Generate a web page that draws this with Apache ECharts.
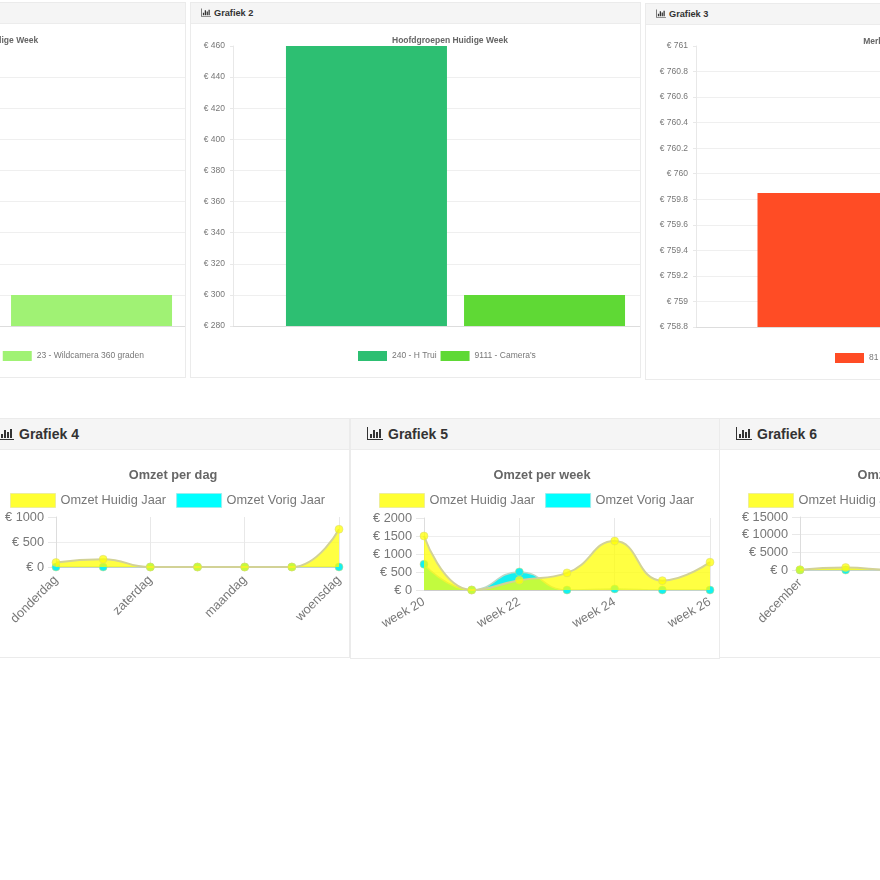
<!DOCTYPE html>
<html>
<head>
<meta charset="utf-8">
<title>Grafieken</title>
<script src="https://cdn.jsdelivr.net/npm/echarts@6/dist/echarts.min.js"></script>
<style>
  html, body { margin: 0; padding: 0; background: #fff; }
  #page { position: relative; width: 880px; height: 880px; overflow: hidden; font-family: "Liberation Sans", sans-serif; }
  .card { position: absolute; overflow: hidden; box-sizing: border-box; background: #fff; border: 1px solid #ebebeb; }
  .card .head { position: absolute; left: 0; right: 0; top: 0; background: #f5f5f5; border-bottom: 1px solid #ececec; color: #333; font-weight: bold; box-sizing: border-box; white-space: nowrap; }
  .card .head svg { vertical-align: -1px; margin-right: 3px; }
  .card.small .head { height: 21px; line-height: 21px; font-size: 9.2px; padding-left: 10px; }
  .card.big .head { height: 31px; line-height: 30px; font-size: 14px; padding-left: 16px; }
  .card.big .head svg { margin-right: 5px; vertical-align: -1px; }
  .chart { position: absolute; left: -1px; top: -1px; }
</style>
</head>
<body>
<div id="page"></div>
<script>
// bovenste rij: een dataset per staaf
const names1 = ["12 - Actiecamera", "23 - Wildcamera 360 graden"];
const values1 = [460, 300];
const colors1 = ["#f2b84b", "#a0f274"];
const ticks1 = [280, 460, 20];

const names2 = ["240 - H Trui", "9111 - Camera's"];
const values2 = [460, 300];
const colors2 = ["#2dbf72", "#5fd935"];
const ticks2 = [280, 460, 20];

const names3 = ["81 - Merk"];
const values3 = [759.85];
const colors3 = ["#ff4c25"];
const ticks3 = [758.8, 761, 0.2];

// onderste rij: omzet
const days = ["donderdag", "vrijdag", "zaterdag", "zondag", "maandag", "dinsdag", "woensdag"];
const dayNow = [90, 155, 0, 0, 0, 0, 755];
const dayLast = [0, 0, 0, 0, 0, 0, 0];

const weeks = ["week 20", "week 21", "week 22", "week 23", "week 24", "week 25", "week 26"];
const weekNow = [1500, 0, 270, 475, 1360, 260, 773];
const weekLast = [717, 0, 503, 0, 30, 0, 0];

const months = ["december", "januari", "februari", "maart", "april", "mei", "juni"];
const monthNow = [100, 700, 50, 0, 0, 0, 0];
const monthLast = [0, 0, 0, 0, 0, 0, 0];

const GREY = "#777";
const ICON = (w, h) => `<svg width="${w}" height="${h}" viewBox="0 0 16 13"><path d="M0 0h1v12h15v1H0z M3 7h2v4H3z M6 3h2v8H6z M9 5h2v6H9z M12 2h2v9h-2z" fill="#333"/></svg>`;

function addCard(left, top, width, height, title, size) {
  const card = document.createElement("div");
  card.className = "card " + size;
  card.style.cssText = `left:${left}px;top:${top}px;width:${width}px;height:${height}px`;
  const icon = size === "big" ? ICON(16, 13) : ICON(10, 9);
  card.innerHTML = `<div class="head">${icon}${title}</div>`;
  document.getElementById("page").appendChild(card);
  return card;
}

function addChart(card, width, height) {
  const el = document.createElement("div");
  el.className = "chart";
  el.style.width = width + "px";
  el.style.height = height + "px";
  card.appendChild(el);
  return echarts.init(el);
}

function barOption(title, titleX, names, values, colors, ticks, gridLeft, gridTop, gridHeight, barWidth, legend) {
  return {
    animation: false,
    title: {
      text: title, left: titleX, top: 29, textAlign: "center",
      textStyle: { fontSize: 8.5, fontWeight: "bold", color: "#666", fontFamily: "Liberation Sans" },
    },
    legend: Object.assign({
      itemWidth: 29, itemHeight: 10, itemGap: 4, icon: "rect",
      textStyle: { fontSize: 8.5, color: GREY, fontFamily: "Liberation Sans" },
    }, legend),
    grid: { left: gridLeft, top: gridTop, width: 445, height: gridHeight },
    xAxis: {
      type: "category", data: [""],
      axisTick: { show: false }, axisLabel: { show: false },
      axisLine: { lineStyle: { color: "#ddd" } },
    },
    yAxis: {
      type: "value", min: ticks[0], max: ticks[1], interval: ticks[2],
      axisLine: { show: true, lineStyle: { color: "#e8e8e8" } },
      axisTick: { show: true, length: 3, lineStyle: { color: "#e8e8e8" } },
      axisLabel: { formatter: (v) => "€ " + v, fontSize: 8.5, color: GREY, margin: 8, fontFamily: "Liberation Sans" },
      splitLine: { showMaxLine: false, lineStyle: { color: "#efefef" } },
    },
    series: names.map((name, i) => ({
      type: "bar", name: name, data: [values[i]],
      barWidth: barWidth, barGap: "10.6%",
      itemStyle: { color: colors[i] },
    })),
  };
}

function lineOption(title, cats, now, last, ticks, plot, rotate) {
  const area = (color, name, values, lineColor, lineWidth, z) => ({
    type: "line", name: name, data: values, smooth: 0.5, z: z,
    symbol: "circle", symbolSize: 8, showSymbol: true, showAllSymbol: true,
    lineStyle: { color: lineColor, width: lineWidth },
    itemStyle: { color: color, borderColor: "rgba(215,215,120,0.5)", borderWidth: 1 },
    areaStyle: { color: color, opacity: 1 },
  });
  return {
    animation: false,
    title: {
      text: title, left: 187, top: 46, textAlign: "center",
      textStyle: { fontSize: 12.75, fontWeight: "bold", color: "#666", fontFamily: "Liberation Sans" },
    },
    legend: {
      left: 24, top: 70, itemWidth: 45, itemHeight: 14, itemGap: 10, icon: "rect",
      textStyle: { fontSize: 12.75, color: GREY, fontFamily: "Liberation Sans" },
      data: [
        { name: "Omzet Huidig Jaar", itemStyle: { color: "#ffff33", borderColor: "#eeee99", borderWidth: 1 } },
        { name: "Omzet Vorig Jaar", itemStyle: { color: "#00ffff", borderColor: "#99eeee", borderWidth: 1 } },
      ],
    },
    grid: { left: plot.left, top: plot.top, width: plot.width, height: plot.height },
    xAxis: {
      type: "category", data: cats, boundaryGap: false,
      axisLine: { lineStyle: { color: "#ccc" } },
      axisTick: { show: false },
      axisLabel: { interval: plot.every, rotate: rotate, fontSize: 12.75, color: GREY, margin: 11, fontFamily: "Liberation Sans" },
      splitLine: { show: true, interval: plot.every, lineStyle: { color: "#e8e8e8" } },
    },
    yAxis: {
      type: "value", min: 0, max: ticks[0], interval: ticks[1],
      axisLine: { show: true, lineStyle: { color: "#ddd" } },
      axisTick: { show: true, length: 8, lineStyle: { color: "#e8e8e8" } },
      axisLabel: { formatter: (v) => "€ " + v, fontSize: 12.75, color: GREY, margin: 12, fontFamily: "Liberation Sans" },
      splitLine: { showMaxLine: plot.topLine, lineStyle: { color: "#eee" } },
    },
    series: [
      area("rgba(255,255,0,0.74)", "Omzet Huidig Jaar", now, "#d2d296", 2, 3),
      area("#14f0f0", "Omzet Vorig Jaar", last, "#bcd8c8", 1.5, 2),
    ],
  };
}

const card1 = addCard(-266, 2, 452, 376, "Grafiek 1", "small");
addChart(card1, 520, 370).setOption(barOption("Artikel Huidige Week", 257, names1, values1, colors1, ticks1,
  46, 44, 280, 161, { right: 105, top: 344 }));

const card2 = addCard(190, 2, 451, 376, "Grafiek 2", "small");
addChart(card2, 520, 370).setOption(barOption("Hoofdgroepen Huidige Week", 255, names2, values2, colors2, ticks2,
  43, 44, 280, 161, { left: 163, top: 344 }));

const card3 = addCard(645, 3, 451, 377, "Grafiek 3", "small");
addChart(card3, 520, 370).setOption(barOption("Merken Huidige Week", 257, names3, values3, colors3, ticks3,
  51, 43, 281, 322, { left: 185, top: 345 }));

const card4 = addCard(-19, 418, 369, 240, "Grafiek 4", "big");
addChart(card4, 369, 239).setOption(lineOption("Omzet per dag", days, dayNow, dayLast, [1000, 500],
  { left: 75, top: 99, width: 283, height: 50, every: 1, topLine: false }, 45));

const card5 = addCard(350, 418, 370, 241, "Grafiek 5", "big");
addChart(card5, 369, 239).setOption(lineOption("Omzet per week", weeks, weekNow, weekLast, [2000, 500],
  { left: 74, top: 100, width: 286, height: 72, every: 1, topLine: false }, 30));

const card6 = addCard(719, 418, 369, 240, "Grafiek 6", "big");
addChart(card6, 369, 239).setOption(lineOption("Omzet per maand", months, monthNow, monthLast, [15000, 5000],
  { left: 81, top: 99, width: 274, height: 53, every: 2, topLine: true }, 45));
</script>
</body>
</html>
